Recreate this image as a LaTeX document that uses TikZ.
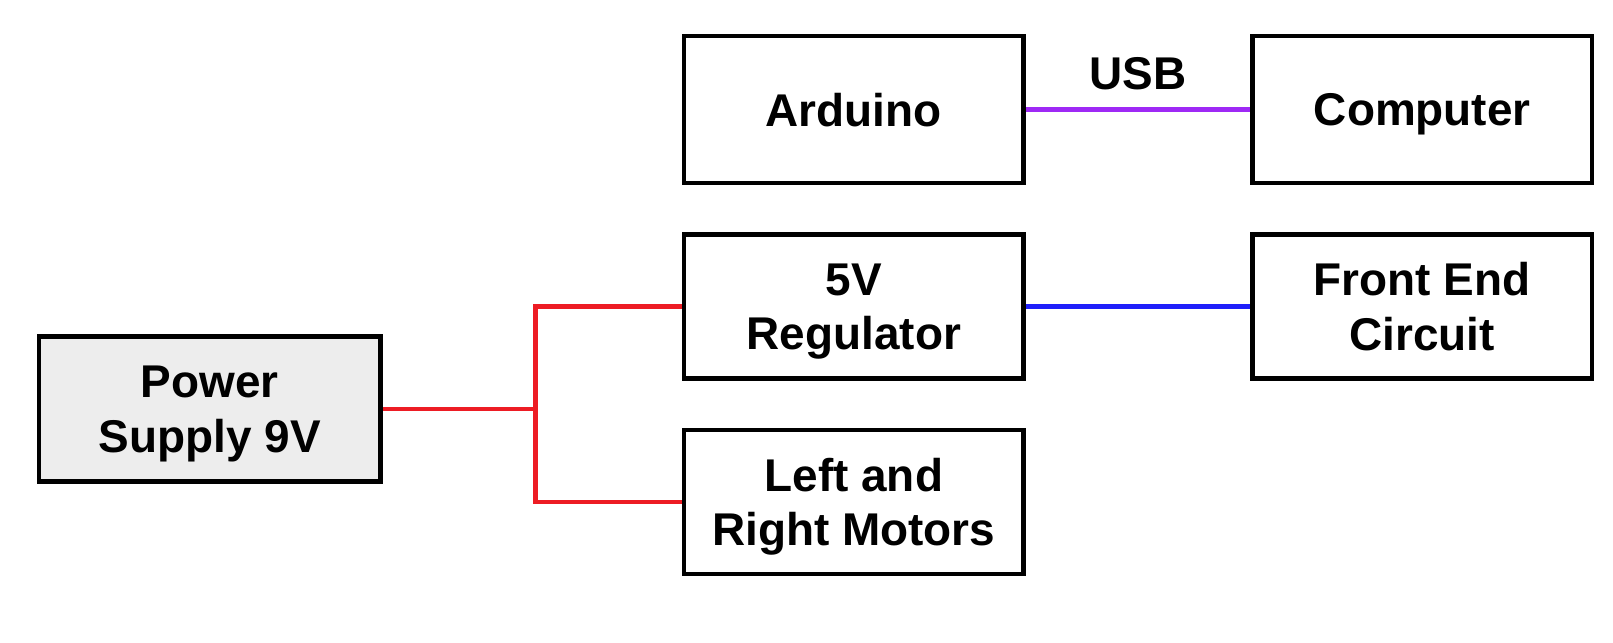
\documentclass[tikz,border=0pt]{standalone}
\usepackage{fontspec}
\setmainfont{Liberation Sans}
\usetikzlibrary{positioning}
\definecolor{wirered}{rgb}{0.93, 0.11, 0.14}
\definecolor{usbpurple}{rgb}{0.62, 0.16, 0.96}
\definecolor{sigblue}{rgb}{0.12, 0.12, 0.98}
\definecolor{psgray}{rgb}{0.93, 0.93, 0.93}

\begin{document}
\begin{tikzpicture}[
    block/.style={draw, line width=1.3pt, minimum width=3.3cm, minimum height=1.40cm,
      align=center, font=\fontsize{12.7}{15.1}\selectfont\bfseries, inner sep=2pt,
      text depth=0pt},
    wire/.style={line width=1.3pt},
    node distance=0.454cm and 2.18cm
  ]
    \useasboundingbox [fill=white] (0, 0) rectangle (15.68, 6.25);

    \node [block, minimum height=1.43cm] (arduino) at (8.30, 5.185) {Arduino};
    \node [block, minimum height=1.43cm, right=of arduino] (computer) {Computer};
    \node [block, below=of arduino] (reg) {5V\\Regulator};
    \node [block, right=of reg] (frontend) {Front End\\Circuit};
    \node [block, below=of reg] (motors) {Left and\\Right Motors};
    \node [block, fill=psgray, minimum width=3.32cm, minimum height=1.41cm] (power) at (2.04, 2.275) {Power\\Supply 9V};

    \draw [wire, usbpurple, line width=1.2pt] (arduino) -- node [above=1.5pt, black, font=\fontsize{12.7}{15.1}\selectfont\bfseries] (usb) {USB} (computer);
    \draw [wire, sigblue, line width=1.2pt] (reg) -- (frontend);

    \draw [wire, wirered] (power.east) -- ++(1.48, 0) coordinate (split);
    \draw [wire, wirered] (split) |- (reg.west);
    \draw [wire, wirered] (split) |- (motors.west);
  \end{tikzpicture}
\end{document}
